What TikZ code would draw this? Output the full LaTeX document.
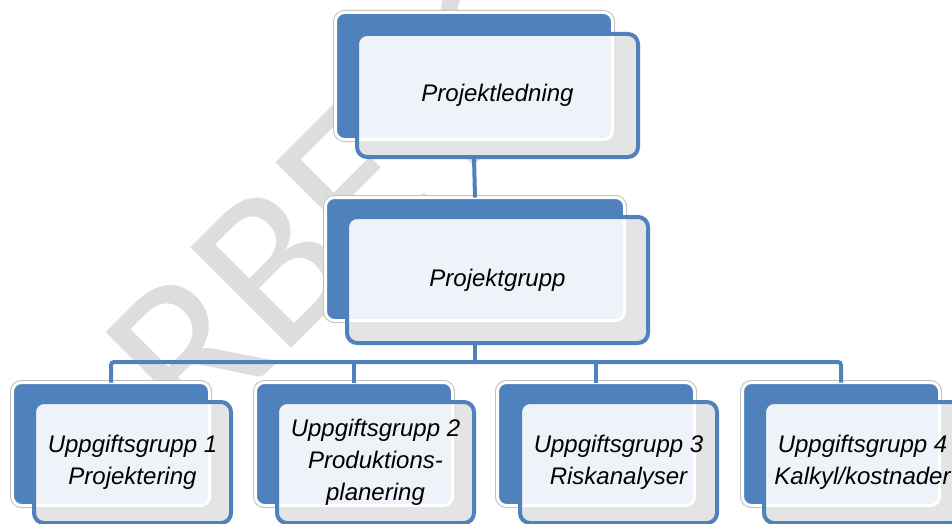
\documentclass[tikz,border=0pt]{standalone}
\usepackage{fontspec}
\setmainfont{Liberation Sans}
\newfontfamily\wmfont{Carlito}
\usepackage{xcolor}
\usepackage{tikz}

\definecolor{orgblue}{HTML}{4F81BD}
\definecolor{boxgray}{HTML}{E4E4E4}
\definecolor{boxlight}{HTML}{EEF2F9}
\definecolor{wmgray}{HTML}{DDDDDD}

\begin{document}
\begin{tikzpicture}[x=1pt, y=-1pt]
	\tikzstyle{back} = [rectangle, fill=orgblue, draw=white, line width=3pt, rounded corners=9pt, inner sep=0pt, outer sep=0pt, preaction={draw=black!25, line width=5pt}]
	\tikzstyle{watermark} = [text=wmgray, font=\wmfont\fontsize{222}{222}\selectfont, inner sep=0pt, anchor=base west, rotate=45]
	\tikzset{front/.style = {rectangle, fill=boxgray, draw=orgblue, line width=4pt, rounded corners=10pt, inner sep=0pt, outer sep=0pt, align=center, font=\fontsize{24}{32}\selectfont\itshape,
		path picture={\draw[fill=boxlight, draw=white, line width=3pt, rounded corners=9pt] (#1.north west) rectangle (#1.south east);}}}
	\tikzset{edge/.style = {-, draw=orgblue, line width=4pt}}
	
	\clip (0,0) rectangle (952,524);
	\node[watermark](wm) at (104,536) {ARBETS};
	
	\node[back, minimum width=277pt, minimum height=127pt](pl-back) at (474,76) {};
	\node[front=pl-back, minimum width=281pt, minimum height=123pt](pl) at (497.5,95.5) {Projektledning};
	
	\node[back, minimum width=299pt, minimum height=123pt](pg-back) at (475,259) {};
	\node[front=pg-back, minimum width=301pt, minimum height=126pt](pg) at (497.5,280) {Projektgrupp};
	
	\node[back, minimum width=197pt, minimum height=123pt](ug1-back) at (111,444) {};
	\node[front=ug1-back, minimum width=197pt, minimum height=121pt](ug1) at (132.5,462.5) {Uppgiftsgrupp 1\\Projektering};
	
	\node[back, minimum width=197pt, minimum height=123pt](ug2-back) at (354,444) {};
	\node[front=ug2-back, minimum width=197pt, minimum height=121pt](ug2) at (375.5,462.5) {Uppgiftsgrupp 2\\Produktions-\\planering};
	
	\node[back, minimum width=197pt, minimum height=123pt](ug3-back) at (596,444) {};
	\node[front=ug3-back, minimum width=197pt, minimum height=121pt](ug3) at (618.5,462.5) {Uppgiftsgrupp 3\\Riskanalyser};
	
	\node[back, minimum width=197pt, minimum height=123pt](ug4-back) at (841,444) {};
	\node[front=ug4-back, minimum width=197pt, minimum height=121pt](ug4) at (862.5,462.5) {Uppgiftsgrupp 4\\Kalkyl/kostnader};
	
	\coordinate (bus) at (475,362);
	\draw[edge](pl-back.south |- pl.south) to (pg-back.north);
	\draw[edge](pg-back.south |- pg.south) to (bus);
	\draw[edge, rounded corners=3pt](ug1-back.north) |- (bus) -| (ug4-back.north);
	\draw[edge](ug2-back.north |- bus) to (ug2-back.north);
	\draw[edge](ug3-back.north |- bus) to (ug3-back.north);
	
\end{tikzpicture}
\end{document}
